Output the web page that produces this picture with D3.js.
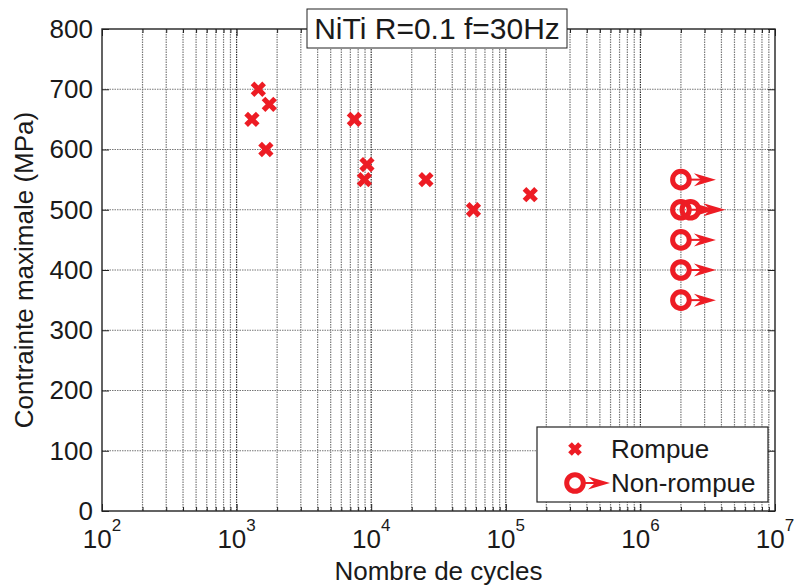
<!DOCTYPE html>
<meta charset="utf-8">
<script src="https://d3js.org/d3.v7.min.js"></script>
<style>
  body { margin: 0; background: #fff; }
  text { font-family: "Liberation Sans", Arial, Helvetica, sans-serif; fill: #1a1a1a; }
</style>
<div id="my_dataviz"></div>
<script>
// fatigue data, NiTi R=0.1 f=30Hz
var ruptN = [1300, 1450, 1750, 1650, 7500, 9300, 8900, 25500, 57500, 152000];
var ruptS = [650, 700, 675, 600, 650, 575, 550, 550, 500, 525];
var runoutN = [2e6, 2e6, 2.35e6, 2e6, 2e6, 2e6];
var runoutS = [550, 500, 500, 450, 400, 350];

var xMajor = [1e2, 1e3, 1e4, 1e5, 1e6, 1e7];
var xExp = ["2", "3", "4", "5", "6", "7"];
var yTicks = [0, 100, 200, 300, 400, 500, 600, 700, 800];

var red = "#ed1c24";
var W = 794, H = 585;
var L = 102, R = 775, T = 29, B = 511;

var svg = d3.select("#my_dataviz").append("svg")
  .attr("width", W).attr("height", H);

var x = d3.scaleLog().domain([1e2, 1e7]).range([L, R]);
var y = d3.scaleLinear().domain([0, 800]).range([B, T]);

// minor tick positions 2..9 per decade
var xMinor = [];
xMajor.slice(0, -1).forEach(function(d) {
  for (var k = 2; k <= 9; k++) xMinor.push(d * k);
});

// grid
var grid = svg.append("g");
grid.selectAll(".vmin").data(xMinor).enter().append("line")
  .attr("x1", function(d) { return x(d); }).attr("x2", function(d) { return x(d); })
  .attr("y1", T).attr("y2", B)
  .attr("stroke", "#7a7a7a").attr("stroke-width", 1.2).attr("stroke-dasharray", "1.5,1");
grid.selectAll(".vmaj").data(xMajor.slice(1, -1)).enter().append("line")
  .attr("x1", function(d) { return x(d); }).attr("x2", function(d) { return x(d); })
  .attr("y1", T).attr("y2", B)
  .attr("stroke", "#333").attr("stroke-width", 1.2).attr("stroke-dasharray", "1.5,1");
grid.selectAll(".hmaj").data(yTicks.slice(1, -1)).enter().append("line")
  .attr("x1", L).attr("x2", R)
  .attr("y1", function(d) { return y(d); }).attr("y2", function(d) { return y(d); })
  .attr("stroke", "#777").attr("stroke-width", 1.2).attr("stroke-dasharray", "1.5,1");

// axes with inward ticks on all four sides
function styleAxis(g) {
  g.select(".domain").remove();
  g.selectAll(".tick line").attr("stroke", "#222");
}
svg.append("g").attr("transform", "translate(0," + B + ")")
  .call(d3.axisBottom(x).tickValues(xMajor).tickSize(-7).tickFormat(""))
  .call(styleAxis);
svg.append("g").attr("transform", "translate(0," + B + ")")
  .call(d3.axisBottom(x).tickValues(xMinor).tickSize(-4).tickFormat(""))
  .call(styleAxis);
svg.append("g").attr("transform", "translate(0," + T + ")")
  .call(d3.axisTop(x).tickValues(xMajor).tickSize(-7).tickFormat(""))
  .call(styleAxis);
svg.append("g").attr("transform", "translate(0," + T + ")")
  .call(d3.axisTop(x).tickValues(xMinor).tickSize(-4).tickFormat(""))
  .call(styleAxis);
svg.append("g").attr("transform", "translate(" + L + ",0)")
  .call(d3.axisLeft(y).tickValues(yTicks).tickSize(-7).tickPadding(9))
  .call(styleAxis)
  .selectAll("text").style("font-size", "26px")
  .attr("font-family", null).attr("fill", "#1a1a1a");
svg.append("g").attr("transform", "translate(" + R + ",0)")
  .call(d3.axisRight(y).tickValues(yTicks).tickSize(-7).tickFormat(""))
  .call(styleAxis);

// box
svg.append("rect").attr("x", L).attr("y", T).attr("width", R - L).attr("height", B - T)
  .attr("fill", "none").attr("stroke", "#222").attr("stroke-width", 1.4);

// x tick labels 10^n
var xl = svg.append("g").selectAll("text").data(xMajor).enter().append("text")
  .attr("x", function(d) { return x(d); })
  .attr("y", 548)
  .attr("text-anchor", "middle")
  .style("font-size", "26px");
xl.append("tspan").text("10");
xl.append("tspan").attr("dy", -17).style("font-size", "17px")
  .text(function(d, i) { return xExp[i]; });

// axis labels
svg.append("text").attr("x", (L + R) / 2).attr("y", 580)
  .attr("text-anchor", "middle").style("font-size", "26px")
  .text("Nombre de cycles");
svg.append("text").attr("transform", "translate(33," + (T + B) / 2 + ") rotate(-90)")
  .attr("text-anchor", "middle").style("font-size", "26px")
  .text("Contrainte maximale (MPa)");

// markers
function cross(g, cx, cy, s) {
  g.append("path")
    .attr("d", "M" + (cx - s) + "," + (cy - s) + "L" + (cx + s) + "," + (cy + s) +
               "M" + (cx - s) + "," + (cy + s) + "L" + (cx + s) + "," + (cy - s))
    .attr("stroke", red).attr("stroke-width", 5.2).attr("fill", "none");
}
function runout(g, cx, cy) {
  g.append("path")
    .attr("d", "M" + (cx + 9) + "," + cy + "L" + (cx + 26) + "," + cy)
    .attr("stroke", red).attr("stroke-width", 2);
  g.append("path")
    .attr("d", "M" + (cx + 13) + "," + (cy - 6.5) + "L" + (cx + 35) + "," + cy +
               "L" + (cx + 13) + "," + (cy + 6.5) + "L" + (cx + 20) + "," + cy + "Z")
    .attr("fill", red);
  g.append("circle").attr("cx", cx).attr("cy", cy).attr("r", 8.3)
    .attr("fill", "none").attr("stroke", red).attr("stroke-width", 5);
}

var marks = svg.append("g");
ruptN.forEach(function(n, i) { cross(marks, x(n), y(ruptS[i]), 5.8); });
runoutN.forEach(function(n, i) { runout(marks, x(n), y(runoutS[i])); });

// title box
var tg = svg.append("g");
tg.append("rect").attr("x", 307).attr("y", 9).attr("width", 260).attr("height", 39)
  .attr("fill", "#fff").attr("stroke", "#222").attr("stroke-width", 1);
tg.append("text").attr("x", 437).attr("y", 39).attr("text-anchor", "middle")
  .style("font-size", "30px").text("NiTi R=0.1 f=30Hz");

// legend
var lg = svg.append("g");
lg.append("rect").attr("x", 537).attr("y", 427).attr("width", 231).attr("height", 75)
  .attr("fill", "#fff").attr("stroke", "#222").attr("stroke-width", 1.2);
cross(lg, 575, 449, 5);
runout(lg, 575, 483);
lg.append("text").attr("x", 611).attr("y", 458).style("font-size", "26px").text("Rompue");
lg.append("text").attr("x", 611).attr("y", 492).style("font-size", "26px").text("Non-rompue");
</script>
